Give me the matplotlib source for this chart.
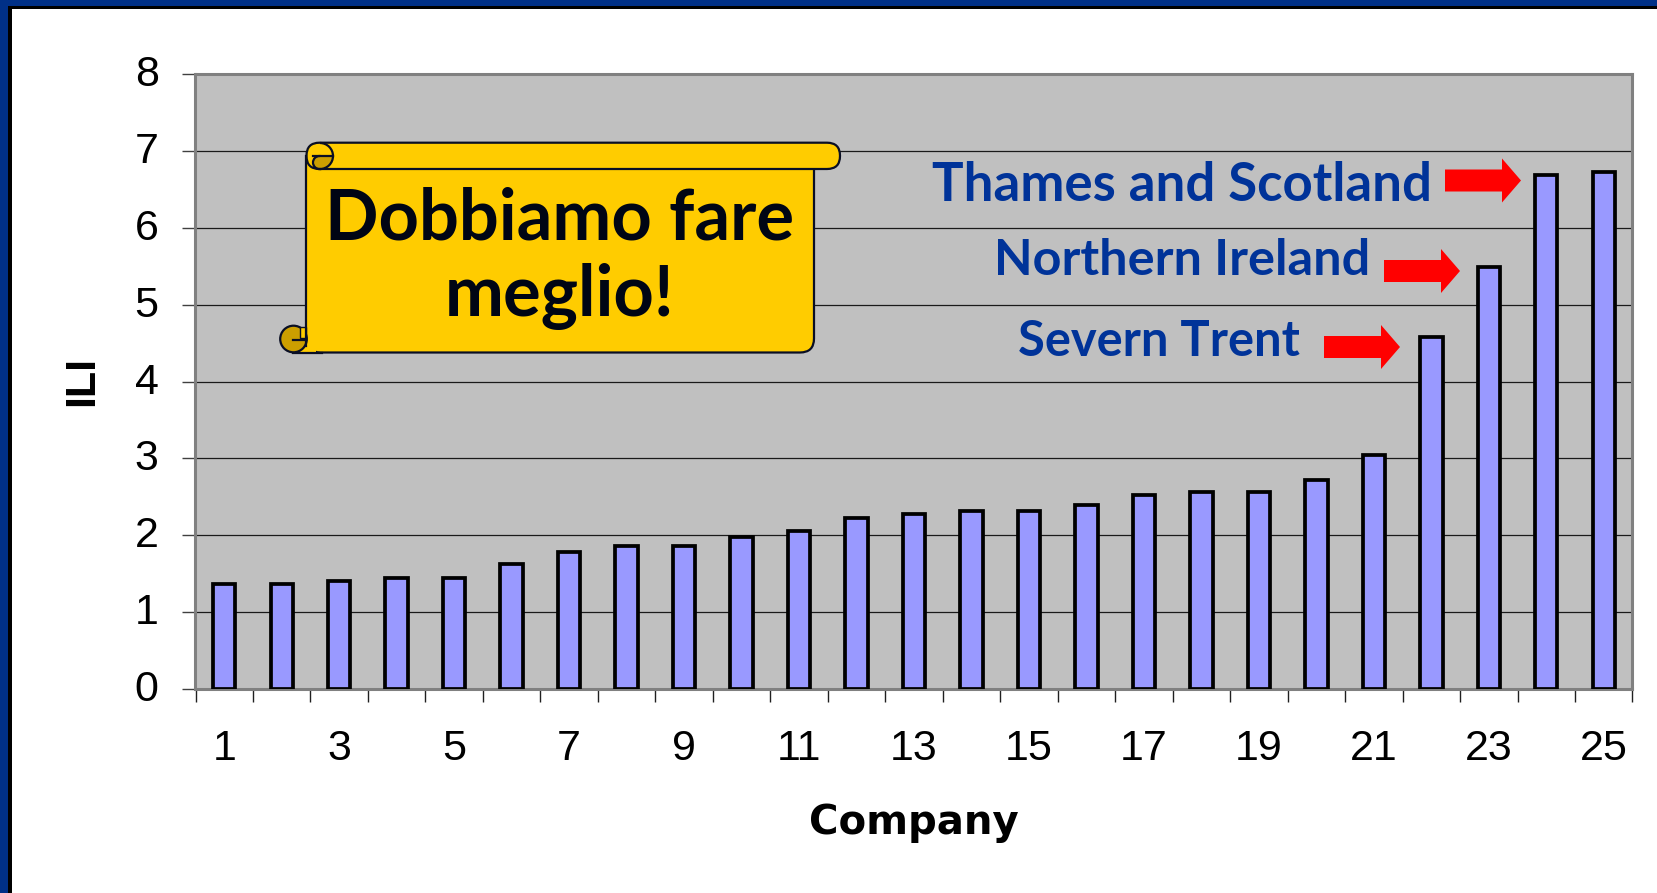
import matplotlib
matplotlib.use('Agg')
import matplotlib.pyplot as plt
from matplotlib.patches import Arc, Circle, FancyBboxPatch, Polygon, Rectangle, Wedge
from matplotlib.transforms import ScaledTranslation

W, H = 1658, 893
DPI = 100

companies = list(range(1, 26))
ili = [1.36, 1.36, 1.40, 1.45, 1.45, 1.62, 1.78, 1.86, 1.86, 1.98, 2.06, 2.23, 2.27,
       2.31, 2.31, 2.39, 2.52, 2.56, 2.56, 2.72, 3.05, 4.58, 5.49, 6.69, 6.72]
y_ticks = list(range(0, 9))
x_labels = list(range(1, 26, 2))

YELLOW = '#FFCC00'
DARK_GOLD = '#CC9F00'
OUTLINE = '#0A0F24'
BLUE = '#003399'
SANS = 'Liberation Sans'
CALLOUT = 'Lato'

fig = plt.figure(figsize=(W / DPI, H / DPI), dpi=DPI, facecolor='white')

# plot area, in pixels of the reference
left, right, top, bottom = 195.5, 1632.5, 74, 689
ax = fig.add_axes([left / W, 1 - bottom / H, (right - left) / W, (bottom - top) / H])
ax.set_facecolor('#C0C0C0')
ax.bar(companies, ili, width=0.39, color='#9999FF', edgecolor='black', linewidth=2.7, zorder=3)
ax.set_xlim(0.5, 25.5)
ax.set_ylim(0, 8)

ax.set_yticks(y_ticks)
ax.set_xticks([i + 0.5 for i in range(0, 26)])
ax.set_xticklabels([])
ax.set_xticks(x_labels, minor=True)
ax.set_xticklabels(x_labels, minor=True, fontsize=31, family=SANS)
ax.tick_params(axis='x', which='major', length=9.5, width=1, color='#202020')
ax.tick_params(axis='x', which='minor', length=0, pad=29)
ax.tick_params(axis='y', length=9.5, width=1, color='#404040', labelsize=31, pad=17)
# the value labels sit a little above their ticks
nudge = ScaledTranslation(0, 2.5 / 72, fig.dpi_scale_trans)
for lab in ax.get_yticklabels():
    lab.set_family(SANS)
    lab.set_transform(lab.get_transform() + nudge)

ax.grid(axis='y', color='#1A1A1A', linewidth=0.9, zorder=1)
ax.set_axisbelow(True)
for name, spine in ax.spines.items():
    spine.set_color('#808080')
    spine.set_linewidth(2.2)

ax.set_xlabel('Company', fontsize=29, fontweight='bold', family='DejaVu Sans', labelpad=24)
ax.set_ylabel('ILI', fontsize=31, fontweight='bold', family=SANS)
ax.yaxis.set_label_coords(-0.0647, 0.5)

# overlay in pixels for the window frame and the slide callouts
ov = fig.add_axes([0, 0, 1, 1], facecolor='none')
ov.set_xlim(0, W)
ov.set_ylim(H, 0)
ov.axis('off')

# window frame, top and left only
ov.add_patch(Rectangle((0, 0), W, 6, color='#003087', lw=0))
ov.add_patch(Rectangle((0, 0), 8, H, color='#003087', lw=0))
ov.add_patch(Rectangle((8, 6), W, 3, color='black', lw=0))
ov.add_patch(Rectangle((8, 6), 4, H, color='black', lw=0))

# scroll body
lw = 1.6
ov.add_patch(FancyBboxPatch((306.5, 150), 507.5, 202.5, boxstyle='round,pad=0,rounding_size=14',
                            fc=YELLOW, ec=OUTLINE, lw=lw, zorder=2))
ov.add_patch(Rectangle((306.5, 156), 20, 190, fc=YELLOW, ec='none', zorder=2.05))
ov.add_patch(Rectangle((294, 340), 22, 12.5, fc=YELLOW, ec='none', zorder=2.1))
ov.plot([293.5, 322], [352.5, 352.5], color=OUTLINE, lw=lw, zorder=2.2)
ov.add_patch(FancyBboxPatch((306.5, 142.7), 533.5, 26.3, boxstyle='round,pad=0,rounding_size=13',
                            fc=YELLOW, ec=OUTLINE, lw=lw, zorder=3))
ov.plot([306.5, 306.5], [156, 346], color=OUTLINE, lw=lw, zorder=3.3)
# top left curl
ov.add_patch(Circle((319.5, 162.5), 6.5, fc=DARK_GOLD, ec=OUTLINE, lw=lw, zorder=3.1))
ov.add_patch(Wedge((320, 156), 13, 0, 90, fc=DARK_GOLD, ec='none', zorder=3.15))
ov.add_patch(Arc((320, 156), 26, 26, theta1=-90, theta2=90, color=OUTLINE, lw=lw, zorder=3.3))
ov.plot([313, 333], [155.7, 155.7], color=OUTLINE, lw=lw, zorder=3.3)
ov.plot([319, 320], [169, 169], color=OUTLINE, lw=lw, zorder=3.3)
# bottom left curl
ov.add_patch(Circle((293.5, 339), 13.3, fc=DARK_GOLD, ec=OUTLINE, lw=lw, zorder=3.1))
ov.add_patch(Rectangle((300, 327), 6.5, 11, fc=YELLOW, ec=OUTLINE, lw=1, zorder=3.2))
ov.plot([293, 306.5], [340, 340], color=OUTLINE, lw=lw, zorder=3.3)

ov.text(560, 240, 'Dobbiamo fare', fontsize=50.8, fontweight='bold', family=CALLOUT,
        color='#000514', ha='center', va='baseline', zorder=4)
ov.text(560, 316, 'meglio!', fontsize=50.8, fontweight='bold', family=CALLOUT,
        color='#000514', ha='center', va='baseline', zorder=4)

# labels and arrows for the three highest groups
callouts = [('Thames and Scotland', 38, 1432, 201, 1445, 1502, 1521, 180.5),
            ('Northern Ireland', 36.3, 1370, 275, 1384, 1441, 1460, 271),
            ('Severn Trent', 35.2, 1300, 356, 1324, 1381, 1400, 347)]
for label, size, tx, ty, x0, x1, x2, yc in callouts:
    ov.text(tx, ty, label, fontsize=size, fontweight='bold', family=CALLOUT, color=BLUE,
            ha='right', va='baseline', zorder=4)
    ov.add_patch(Polygon([(x0, yc - 11), (x1, yc - 11), (x1, yc - 22), (x2, yc),
                          (x1, yc + 22), (x1, yc + 11), (x0, yc + 11)],
                         closed=True, fc='#FF0000', ec='none', zorder=4))

fig.savefig('out.png', dpi=DPI)
